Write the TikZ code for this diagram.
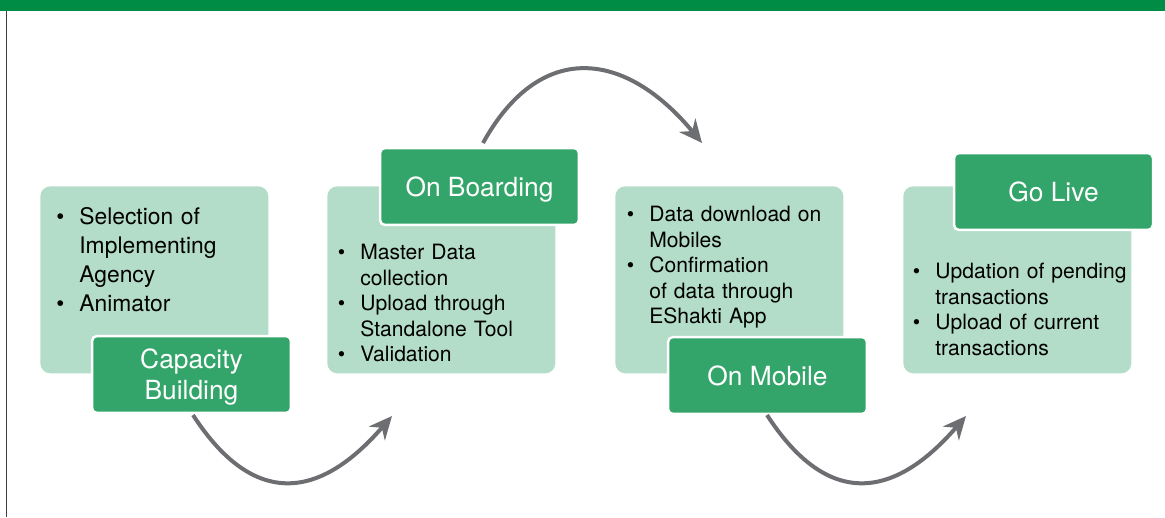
\documentclass[tikz,border=0pt]{standalone}
\usepackage{fontspec}
\setmainfont{TeX Gyre Heros}
\usepackage{enumitem}
\usetikzlibrary{arrows.meta}

\definecolor{bandgreen}{HTML}{008C45}
\definecolor{palegreen}{HTML}{B3DDC8}
\definecolor{phasegreen}{HTML}{34A56A}
\definecolor{arrowgray}{HTML}{6D6E71}

\setlist[itemize]{label=\textbullet, leftmargin=0.42cm, labelsep=0.3cm, itemsep=0pt, topsep=0pt, parsep=0pt, partopsep=0pt}

\tikzset{
  phasebg/.style={fill=palegreen, rounded corners=0.2cm, anchor=north west, inner sep=0pt, minimum width=4.56cm, minimum height=3.74cm},
  phaselbl/.style={fill=phasegreen, draw=white, line width=0.05cm, rounded corners=0.1cm, inner sep=0pt, minimum width=3.98cm, minimum height=1.54cm, text=white, align=center, text depth=0pt, font=\fontsize{15}{17.6}\selectfont},
  phasetxt/.style={anchor=north west, inner sep=0pt, text width=4.4cm, align=left, font=\fontsize{12}{14.5}\selectfont},
  turnarrow/.style={line width=0.08cm, arrowgray, -{Stealth[length=0.46cm, width=0.42cm]}}
}

\begin{document}
\begin{tikzpicture}[x=0.02cm, y=-0.02cm]
    \useasboundingbox (0,0) rectangle (1165,517);

    \coordinate (capout) at (193,415);
    \coordinate (boardin) at (392,416);
    \coordinate (boardout) at (483,143);
    \coordinate (mobilein) at (702,143);
    \coordinate (mobileout) at (767,415);
    \coordinate (livein) at (966,416);

    % bandeau et trait vertical
    \fill[bandgreen] (0,0) rectangle (1165,11);
    \draw[line width=0.03cm, black!75] (6.5,11) -- (6.5,517);

    \node[phasebg] (capbox) at (40,186) {};
    \node[phasebg] (boardbox) at (327,186) {};
    \node[phasebg] (mobilebox) at (615,186) {};
    \node[phasebg] (livebox) at (903,186) {};

    \node[phasetxt, font=\fontsize{13}{16.5}\selectfont] (captext) at (58,195) {%
      \begin{itemize}
        \item Selection of\newline Implementing\newline Agency
        \item Animator
      \end{itemize}};
    \node[phasetxt] (boardtext) at (339,234) {%
      \begin{itemize}
        \item Master Data\newline collection
        \item Upload through\newline Standalone Tool
        \item Validation
      \end{itemize}};
    \node[phasetxt] (mobiletext) at (628,196) {%
      \begin{itemize}
        \item Data download on\newline Mobiles
        \item Confirmation\newline of data through\newline EShakti App
      \end{itemize}};
    \node[phasetxt] (livetext) at (914,253) {%
      \begin{itemize}
        \item Updation of pending\newline transactions
        \item Upload of current\newline transactions
      \end{itemize}};

    \node[phaselbl] (caplbl) at (191.5,374.5) {Capacity\\Building};
    \node[phaselbl] (boardlbl) at (479.5,186.5) {On Boarding};
    \node[phaselbl] (mobilelbl) at (767.5,375.5) {On Mobile};
    \node[phaselbl] (livelbl) at (1053.5,191.5) {Go Live};

    % fleches courbes
    \draw[turnarrow] (capout) .. controls (250,503) and (315,505) .. (boardin);
    \draw[turnarrow] (boardout) .. controls (540,40) and (625,50) .. (mobilein);
    \draw[turnarrow] (mobileout) .. controls (824,503) and (889,505) .. (livein);
\end{tikzpicture}
\end{document}
